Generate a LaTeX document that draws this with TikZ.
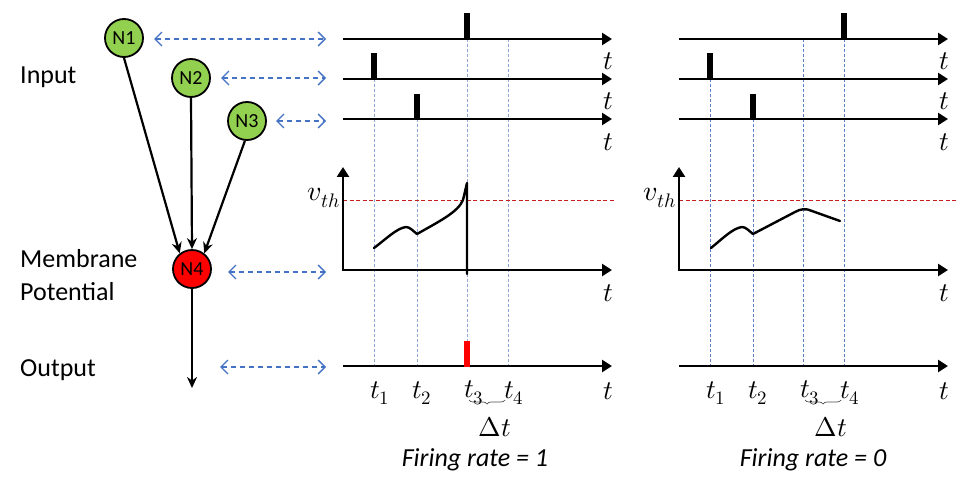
\documentclass[tikz,border=0pt]{standalone}
\usepackage{fontspec}
\usepackage{unicode-math}
\setmainfont{Carlito}
\usetikzlibrary{arrows.meta,decorations.pathreplacing}
\definecolor{nodegreen}{RGB}{146,208,80}
\definecolor{nodered}{RGB}{255,0,0}
\definecolor{linkblue}{RGB}{68,114,196}
\definecolor{guideA}{RGB}{140,165,212}
\definecolor{guideB}{RGB}{90,125,195}
\definecolor{thred}{RGB}{200,30,30}
\tikzset{
  neuron/.style={circle, draw=black, line width=1.8pt, minimum size=38pt, inner sep=0pt,
    font=\fontsize{20}{22}\selectfont},
  synapse/.style={line width=2.2pt, -{Stealth[length=11pt,width=10pt]}},
  link/.style={linkblue, line width=1.4pt, dash pattern=on 5.5pt off 3.5pt,
    {Straight Barb[length=7pt,width=14pt]}-{Straight Barb[length=7pt,width=14pt]}},
  axisline/.style={line width=2.8pt, -{Triangle[length=10pt,width=12pt]}},
  spikebar/.style={line width=5.5pt},
  guide/.style={dash pattern=on 3pt off 2pt, line width=0.7pt},
  thresh/.style={thred, dash pattern=on 4pt off 2.5pt, line width=0.8pt},
  curve/.style={line width=2.4pt, line join=round, line cap=round},
  lbl/.style={font=\fontsize{26}{30}\selectfont, anchor=base west, inner sep=0pt},
  mlbl/.style={font=\fontsize{27}{30}\selectfont, inner sep=0pt},
  bracestyle/.style={decorate, decoration={brace, mirror, amplitude=4pt}, line width=0.7pt, black!70},
  ratelbl/.style={font=\fontsize{26}{30}\selectfont\itshape, inner sep=0pt},
}
\newcommand{\drawpanel}[4]{%
\begin{scope}[xshift=#1]
  \foreach \r/\y in {a/39,b/79,c/119,m/270,o/366}{
    \coordinate (s\r#2) at (343,\y);
    \coordinate (e\r#2) at (612,\y);
  }
  \coordinate (vtop#2) at (343,167);
  % guide lines
  \draw[guide,#3] (374,79) coordinate (g1top#2) -- (374,366) coordinate (g1bot#2);
  \draw[guide,#3] (417,119) coordinate (g2top#2) -- (417,366) coordinate (g2bot#2);
  \draw[guide,#3] (467,39) coordinate (g3top#2) -- (467,366) coordinate (g3bot#2);
  \draw[guide,#3] (508,39) coordinate (g4top#2) -- (508,366) coordinate (g4bot#2);
  % threshold
  \draw[thresh] (343,200) coordinate (ths#2) -- (#4,200) coordinate (the#2);
  % axes
  \draw[axisline] (sa#2) -- (ea#2);
  \draw[axisline] (sb#2) -- (eb#2);
  \draw[axisline] (sc#2) -- (ec#2);
  \draw[axisline] (so#2) -- (eo#2);
  \draw[axisline] (sm#2) -- (vtop#2);
  \draw[axisline] ([xshift=-1.4pt]sm#2) -- (em#2);
  % labels
  \node[mlbl] (la#2) at (608,61) {$t$};
  \node[mlbl] (lb#2) at (608,101) {$t$};
  \node[mlbl] (lc#2) at (608,142) {$t$};
  \node[mlbl] (lm#2) at (608,293) {$t$};
  \node[mlbl] (lo#2) at (608,391) {$t$};
  \node[mlbl, font=\fontsize{28}{30}\selectfont] (vth#2) at (324,198) {$v_{th}$};
  \node[mlbl] (t1#2) at (380,393) {$t_1$};
  \node[mlbl] (t2#2) at (422,393) {$t_2$};
  \node[mlbl] (t3#2) at (474,393) {$t_3$};
  \node[mlbl] (t4#2) at (514,393) {$t_4$};
  \draw[bracestyle] (469,400) coordinate (bl#2) -- (505,400) coordinate (br#2);
  \node[mlbl] (dt#2) at (495,427) {$\Delta t$};
\end{scope}}

\begin{document}
\begin{tikzpicture}[x=1pt,y=-1pt]
\useasboundingbox (0,0) rectangle (960,489);

% left network
\node[neuron, fill=nodegreen] (N1) at (124,38) {N1};
\node[neuron, fill=nodegreen] (N2) at (191,78) {N2};
\node[neuron, fill=nodegreen] (N3) at (247,121) {N3};
\node[neuron, fill=nodered] (N4) at (192,269) {N4};
\coordinate (out) at (192,388);
\draw[synapse] (N1.south) -- (N4.128);
\draw[synapse] (N2.south) -- (N4.north);
\draw[synapse] (N3.264) -- (N4.52);
\draw[synapse] (N4.south) -- (out);

\node[lbl] (input) at (20,84) {Input};
\node[lbl] (memb) at (20,267) {Membrane};
\node[lbl] (pot) at (20,300) {Potential};
\node[lbl] (output) at (20,376) {Output};

% dashed links
\coordinate (k1a) at (154,39);  \coordinate (k1b) at (326,39);
\coordinate (k2a) at (221,78);  \coordinate (k2b) at (326,78);
\coordinate (k3a) at (276,121); \coordinate (k3b) at (326,121);
\coordinate (k4a) at (228,272); \coordinate (k4b) at (326,272);
\coordinate (k5a) at (220,367); \coordinate (k5b) at (326,367);
\draw[link] (k1a) -- (k1b);
\draw[link] (k2a) -- (k2b);
\draw[link] (k3a) -- (k3b);
\draw[link] (k4a) -- (k4b);
\draw[link] (k5a) -- (k5b);

% panels
\drawpanel{0pt}{L}{guideA}{615}
\drawpanel{336pt}{R}{guideB}{622}

% left panel specifics
\draw[spikebar] (467,13) coordinate (p1L) -- (467,40) coordinate (q1L);
\draw[spikebar] (374,53) coordinate (p2L) -- (374,80) coordinate (q2L);
\draw[spikebar] (417,94) coordinate (p3L) -- (417,120) coordinate (q3L);
\draw[spikebar, red, line width=6pt] (467,341) coordinate (poL) -- (467,367) coordinate (qoL);
\draw[curve] (374,248) .. controls (386,239) and (397,228) .. (406,227)
  .. controls (410,227) and (413,231) .. (417,234)
  .. controls (440,221) and (458,212) .. (463,200)
  -- (467,183) -- (467,274);
\node[ratelbl] (rateL) at (475,460) {Firing rate = 1};

% right panel specifics
\draw[spikebar] (844,13) coordinate (p1R) -- (844,40) coordinate (q1R);
\draw[spikebar] (710,53) coordinate (p2R) -- (710,80) coordinate (q2R);
\draw[spikebar] (753,94) coordinate (p3R) -- (753,120) coordinate (q3R);
\draw[curve] (711,248) .. controls (722,239) and (733,228) .. (742,227)
  .. controls (746,227) and (749,231) .. (753,234)
  -- (795,212) .. controls (800,209) and (806,208) .. (812,211)
  -- (840,221);
\node[ratelbl] (rateR) at (813,460) {Firing rate = 0};
\end{tikzpicture}
\end{document}
